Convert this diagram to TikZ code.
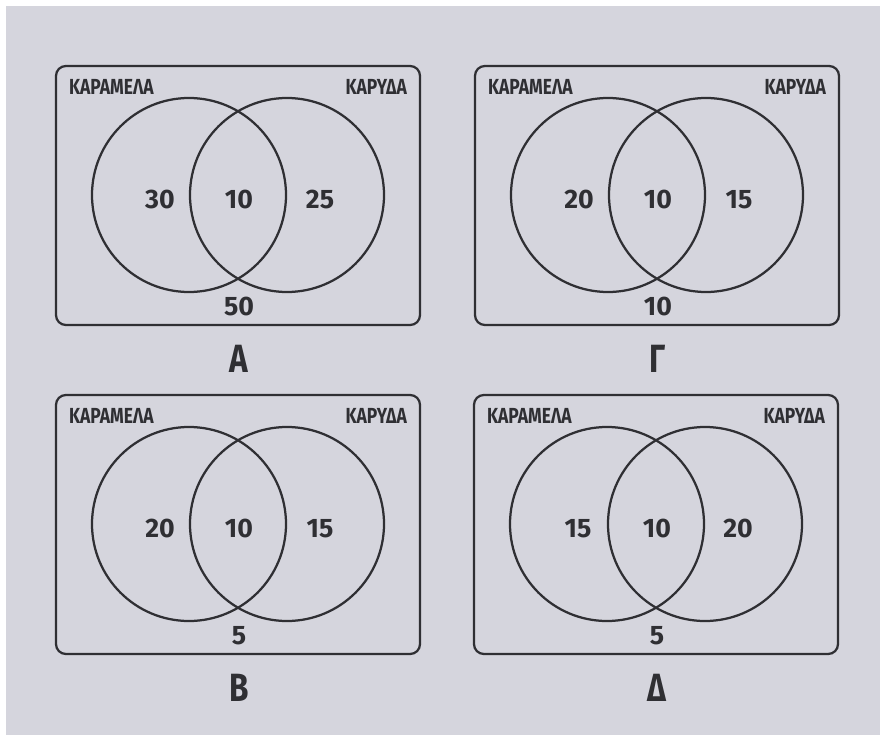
\documentclass[tikz,border=0pt]{standalone}
\usepackage{fontspec}
\setmainfont{Fira Sans}
\newfontfamily\narrowfont[FakeStretch=0.8]{Fira Sans}
\definecolor{ink}{HTML}{2F2F33}
\definecolor{paper}{HTML}{D5D5DD}

\begin{document}
\begin{tikzpicture}[x=0.025cm, y=-0.025cm, line width=1.6pt,
    box/.style={draw=ink, rounded corners=7pt},
    set/.style={draw=ink},
    setname/.style={text=ink, inner sep=0pt, font=\narrowfont\bfseries\fontsize{15.5}{16}\selectfont},
    count/.style={text=ink, inner sep=0pt, font=\bfseries\fontsize{19}{20}\selectfont},
    answer/.style={text=ink, inner sep=0pt, font=\narrowfont\bfseries\fontsize{28}{30}\selectfont}]

    % fondo
    \fill[white] (0,0) rectangle (880,735);
    \fill[paper] (6,6) rectangle (880,735);

    % quattro diagrammi
    \foreach \px/\py/\nm/\va/\vb/\vc/\vd [count=\i] in
        {56/66/Α/30/10/25/50, 475/66/Γ/20/10/15/10,
         56/395/Β/20/10/15/5, 474/395/Δ/15/10/20/5}{
        \begin{scope}[shift={(\px,\py)}]
            \draw[box] (0,0) rectangle (364,259);
            \draw[set] (133,129) circle (97);
            \draw[set] (231,129) circle (97);
            \node[setname, anchor=west] (caramel\i) at (12,21) {ΚΑΡΑΜΕΛΑ};
            \node[setname, anchor=east] (coconut\i) at (352,21) {ΚΑΡΥΔΑ};
            \node[count] (left\i) at (104,134) {\va};
            \node[count] (both\i) at (183,134) {\vb};
            \node[count] (right\i) at (264,134) {\vc};
            \node[count] (none\i) at (183,241) {\vd};
            \node[answer] (answer\i) at (183,293) {\nm};
        \end{scope}
    }
\end{tikzpicture}
\end{document}
